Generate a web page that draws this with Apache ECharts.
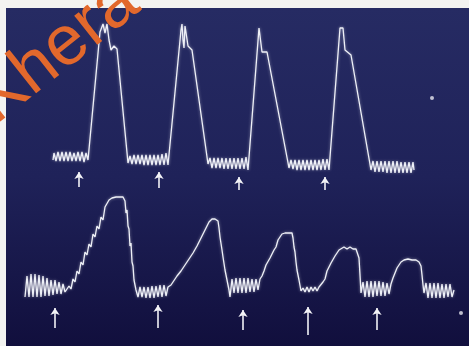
<!DOCTYPE html>
<html>
<head>
<meta charset="utf-8">
<script src="https://cdn.jsdelivr.net/npm/echarts@6/dist/echarts.min.js"></script>
<style>
  html, body { margin: 0; padding: 0; background: #f3f3f1; }
  #chart { width: 469px; height: 346px; }
</style>
</head>
<body>
<div id="chart"></div>
<script>
// upper trace, [x, y] in screen units
const topTrace = [
  [53,160],[54,153],[56,161],[58,152],[60,161],[62,152],[64,161],[66,152],[68,161],[70,152],[72,161],[74,153],[76,161],[78,152],[80,161],[82,152],[84,162],[86,153],[88,160],
  [100,32],[103,24],[105,33],[107,24],[109,40],[111,50],[114,46],[117,49],[128,163],
  [130,156],[132,164],[134,155],[136,164],[138,155],[140,164],[142,155],[144,165],[146,155],[148,165],[150,155],[152,165],[154,155],[156,165],[158,155],[160,165],[162,154],[164,165],[166,153],[168,165],
  [181,30],[182,24],[183,40],[184,48],[185,26],[186,24],[188,46],[192,50],[208,164],
  [210,158],[212,168],[214,158],[216,168],[218,158],[220,168],[222,158],[224,169],[226,158],[228,169],[230,158],[232,169],[234,158],[236,169],[238,158],[240,169],[242,158],[244,169],[246,157],[248,170],
  [259,28],[261,28],[262,52],[267,52],[289,168],
  [291,160],[293,169],[295,160],[297,170],[299,160],[301,170],[303,160],[305,170],[307,160],[309,170],[311,160],[313,170],[315,160],[317,170],[319,160],[321,170],[323,159],[325,170],[327,159],[329,170],[331,168],
  [340,28],[343,28],[345,50],[351,55],[371,170],
  [373,161],[375,172],[377,161],[379,172],[381,161],[383,172],[385,161],[387,173],[389,161],[391,173],[393,161],[395,173],[397,161],[399,173],[401,162],[403,173],[405,162],[407,173],[409,162],[411,173],[413,162],[414,170]
];

// lower trace
const bottomTrace = [
  [25,297],[27,276],[29,297],[31,274],[33,297],[35,274],[37,297],[39,275],[41,297],[43,276],[45,296],[47,278],[49,296],[51,280],[53,295],[55,280],[57,294],[59,282],[61,294],[63,284],[65,292],[67,290],
  [69,286],[71,289],[73,279],[75,282],[77,271],[79,274],[81,262],[83,265],[85,252],[87,255],[89,244],[91,247],[93,234],[95,237],[97,226],[99,229],[101,217],[103,220],[105,207],[107,207],[109,200],[112,198],[116,197],[120,197],[123,197],[125,201],[126,213],[127,210],[128,226],[129,229],[130,246],[131,243],[132,262],[133,266],[134,280],[136,290],
  [138,297],[140,287],[142,297],[144,287],[146,298],[148,287],[150,298],[152,286],[154,298],[156,286],[158,297],[160,285],[162,297],[164,285],[166,296],[168,287],
  [171,285],[173,282],[175,283],[177,276],[179,278],[181,271],[183,273],[185,265],[187,267],[189,259],[191,261],[193,253],[195,255],[197,246],[199,248],[201,238],[203,240],[205,230],[207,226],[209,222],[212,219],[215,219],[218,221],[219,228],[220,237],[221,236],[222,250],[223,257],[224,255],[225,270],[227,280],[228,278],[229,290],[230,297],
  [232,279],[234,293],[236,278],[238,293],[240,278],[242,293],[244,278],[246,293],[248,278],[250,292],[252,279],[254,292],[256,279],[258,290],[260,279],
  [262,276],[264,271],[266,265],[268,264],[270,258],[272,256],[274,250],[276,247],[278,240],[280,237],[282,234],[285,233],[289,233],[292,233],[293,238],[294,247],[295,252],[296,262],[297,270],[299,280],[301,291],
  [303,288],[305,292],[307,287],[309,292],[311,287],[313,291],[315,287],[317,291],[319,287],[321,286],
  [323,282],[325,279],[327,271],[329,269],[331,263],[333,261],[335,256],[337,254],[339,250],[341,248],[344,247],[347,249],[350,247],[353,249],[356,249],[358,251],[359,258],[360,275],[361,293],
  [363,282],[365,297],[367,281],[369,297],[371,281],[373,297],[375,281],[377,296],[379,281],[381,296],[383,282],[385,296],[387,283],[389,294],[391,284],
  [393,278],[395,273],[397,268],[399,266],[401,262],[404,260],[408,259],[412,260],[416,260],[419,262],[421,266],[422,275],[423,285],[424,293],
  [426,283],[428,298],[430,283],[432,298],[434,283],[436,298],[438,283],[440,298],[442,284],[444,298],[446,284],[448,297],[450,284],[452,297],[454,290]
];

// marker arrows: x, tail y, head y
const arrowX    = [79, 159, 239, 325, 55, 158, 243, 308, 377];
const arrowTail = [187, 188, 190, 190, 328, 328, 330, 335, 330];
const arrowHead = [172, 172, 177, 177, 308, 305, 310, 307, 308];

const specks = [[432, 98], [461, 313]];

const chart = echarts.init(document.getElementById("chart"));

const arrows = arrowX.map((x, i) => ({
  coords: [[x, arrowTail[i]], [x, arrowHead[i]]],
}));

const traceStyle = {
  color: "#eef0f7",
  width: 1.3,
  shadowBlur: 3,
  shadowColor: "rgba(255,255,255,0.5)",
};

chart.setOption({
  animation: false,
  grid: {
    left: 6,
    top: 8,
    right: 0,
    bottom: 0,
    show: true,
    borderWidth: 0,
    backgroundColor: new echarts.graphic.LinearGradient(0, 0, 0, 1, [
      { offset: 0, color: "#262b63" },
      { offset: 0.5, color: "#1f2259" },
      { offset: 1, color: "#110f3d" },
    ]),
  },
  xAxis: { type: "value", min: 6, max: 469, show: false },
  yAxis: { type: "value", min: 8, max: 346, inverse: true, show: false },
  series: [
    {
      type: "line",
      data: topTrace,
      showSymbol: false,
      lineStyle: traceStyle,
    },
    {
      type: "line",
      data: bottomTrace,
      showSymbol: false,
      lineStyle: traceStyle,
    },
    {
      type: "lines",
      coordinateSystem: "cartesian2d",
      data: arrows,
      symbol: ["none", "arrow"],
      symbolSize: 7,
      lineStyle: { color: "#f2f2f6", width: 1.6, opacity: 1 },
    },
    {
      type: "scatter",
      data: specks,
      symbolSize: 4,
      itemStyle: { color: "#e8e8f0" },
    },
  ],
  graphic: [
    {
      type: "text",
      x: 57,
      y: 52,
      rotation: 0.67,
      z: 100,
      style: {
        text: "Khera",
        fill: "#e2682c",
        font: '70px "Liberation Sans"',
        textAlign: "center",
        textVerticalAlign: "middle",
      },
    },
  ],
});
</script>
</body>
</html>
